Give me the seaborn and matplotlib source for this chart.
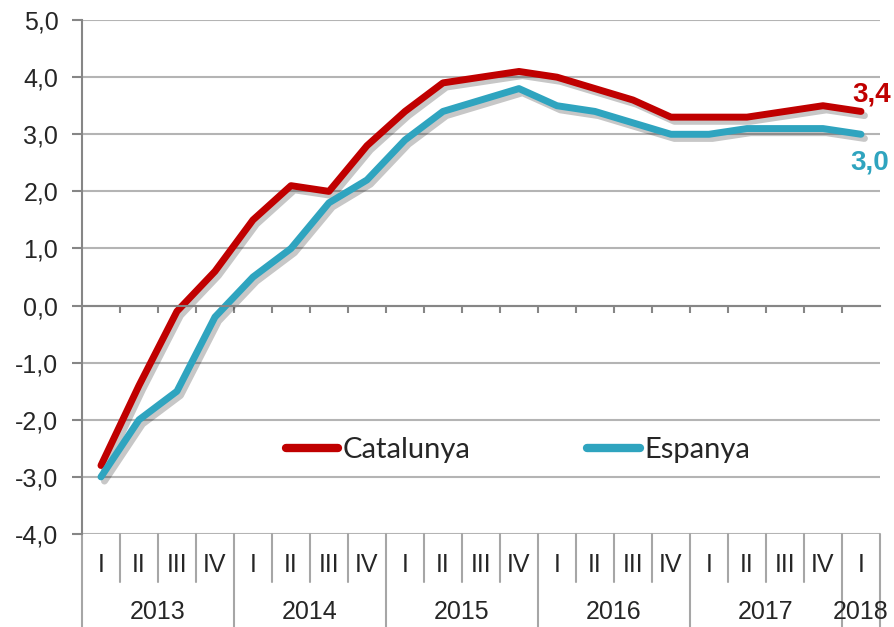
import numpy as np
import pandas as pd
import matplotlib
matplotlib.use("Agg")
import matplotlib.pyplot as plt
import matplotlib.patheffects as pe
import matplotlib.transforms as mtransforms
import seaborn as sns

quarters = ["I", "II", "III", "IV"] * 5 + ["I"]
years = ["2013", "2014", "2015", "2016", "2017", "2018"]
catalunya = [-2.8, -1.4, -0.1, 0.6, 1.5, 2.1, 2.0, 2.8, 3.4, 3.9, 4.0,
             4.1, 4.0, 3.8, 3.6, 3.3, 3.3, 3.3, 3.4, 3.5, 3.4]
espanya = [-3.0, -2.0, -1.5, -0.2, 0.5, 1.0, 1.8, 2.2, 2.9, 3.4, 3.6,
           3.8, 3.5, 3.4, 3.2, 3.0, 3.0, 3.1, 3.1, 3.1, 3.0]

colors = {"Catalunya": "#C00000", "Espanya": "#2FA4BF"}

n = len(quarters)
idx = np.arange(n)
df = pd.DataFrame({
  "t": np.concatenate([idx, idx]),
  "valor": catalunya + espanya,
  "serie": ["Catalunya"] * n + ["Espanya"] * n,
})

sns.set_style("white")
plt.rcParams["font.family"] = ["Liberation Sans", "DejaVu Sans"]

fig = plt.figure(figsize=(8.94, 6.27), dpi=100)
ax = fig.add_axes([0.0917, 0.1483, 0.8926, 0.8197])

sns.lineplot(data=df, x="t", y="valor", hue="serie", palette=colors,
             linewidth=5, ax=ax, legend=True)
for ln in ax.lines:
  ln.set_solid_capstyle("round")
  ln.set_path_effects([pe.SimpleLineShadow(offset=(2.5, -3), alpha=0.22, shadow_color="black"),
                       pe.Normal()])

ax.set_xlim(-0.5, n - 0.5)
ax.set_ylim(-4, 5)
yt = np.arange(-4, 6)
ax.set_yticks(yt)
ax.set_yticklabels([f"{v:.1f}".replace(".", ",") for v in yt], fontsize=18)
ax.yaxis.grid(True, color="#B4B4B4", linewidth=1.5)
ax.set_axisbelow(True)
ax.tick_params(axis="y", length=7, width=1.5, color="#868686", pad=10, left=True)

# axis line at zero with ticks between quarters
ax.spines["bottom"].set_position(("data", 0))
ax.spines["bottom"].set_color("#868686")
ax.spines["bottom"].set_linewidth(1.5)
ax.set_xticks(idx[:-1] + 0.5)
ax.set_xticklabels([])
ax.tick_params(axis="x", length=5, width=1.5, color="#868686", direction="out", bottom=True)
ax.spines["left"].set_color("#868686")
ax.spines["left"].set_linewidth(1.5)
ax.spines["top"].set_visible(False)
ax.spines["right"].set_visible(False)
ax.set_xlabel("")
ax.set_ylabel("")

# category table below the plot
trans = mtransforms.blended_transform_factory(ax.transData, ax.transAxes)
sep_color = "#A6A6A6"
for i, q in enumerate(quarters):
  ax.text(i, -0.060, q, transform=trans, ha="center", va="center", fontsize=18)
year_edges = [-0.5, 3.5, 7.5, 11.5, 15.5, 19.5, 20.5]
for i in range(n - 1):
  b = i + 0.5
  if b in year_edges:
    continue
  ax.plot([b, b], [0, -0.093], transform=trans, color=sep_color, lw=1.5, clip_on=False)
for b in year_edges:
  ax.plot([b, b], [0, -0.19], transform=trans, color=sep_color, lw=1.5, clip_on=False)
for k, y in enumerate(years):
  xc = (year_edges[k] + year_edges[k + 1]) / 2
  ax.text(xc, -0.152, y, transform=trans, ha="center", va="center", fontsize=18)

# end labels
ax.annotate("3,4", (n - 1, catalunya[-1]), xytext=(8, 12), textcoords="offset points",
            ha="center", va="center", fontsize=20, fontweight="bold", color=colors["Catalunya"])
ax.annotate("3,0", (n - 1, espanya[-1]), xytext=(6, -20), textcoords="offset points",
            ha="center", va="center", fontsize=20, fontweight="bold", color=colors["Espanya"])

leg = ax.legend(loc="center", bbox_to_anchor=(0.546, 0.163), ncol=2, frameon=False,
                handlelength=1.8, handletextpad=0.15, columnspacing=4.0,
                prop={"family": "Lato", "size": 21})
for h in leg.get_lines():
  h.set_linewidth(6)
  h.set_solid_capstyle("round")
  h.set_path_effects([])

fig.savefig("out.png", dpi=100)
